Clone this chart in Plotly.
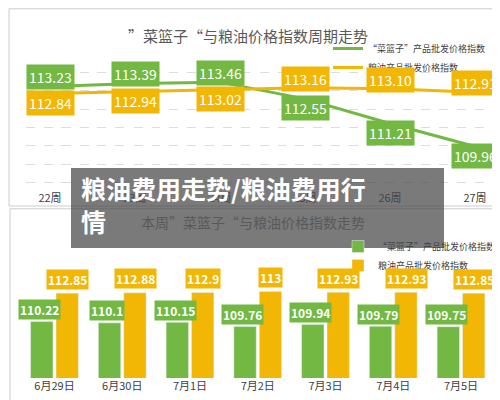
import plotly.graph_objects as go

weeks = ["22周", "23周", "24周", "25周", "26周", "27周"]
veg_week = [113.23, 113.39, 113.46, 112.55, 111.21, 109.96]
grain_week = [112.84, 112.94, 113.02, 113.16, 113.10, 112.91]

days = ["6月29日", "6月30日", "7月1日", "7月2日", "7月3日", "7月4日", "7月5日"]
veg_day = [110.22, 110.1, 110.15, 109.76, 109.94, 109.79, 109.75]
grain_day = [112.85, 112.88, 112.9, 113, 112.93, 112.93, 112.85]

GREEN = "#72b843"
YELLOW = "#f2b705"
FONT = "Noto Sans CJK SC"

fig = go.Figure()

# top chart: weekly lines
fig.add_trace(go.Scatter(x=weeks, y=veg_week, mode="lines", line=dict(color=GREEN, width=3),
                         name="“菜篮子”产品批发价格指数", legend="legend"))
fig.add_trace(go.Scatter(x=weeks, y=grain_week, mode="lines", line=dict(color=YELLOW, width=3),
                         name="粮油产品批发价格指数", legend="legend"))

# bottom chart: daily bars
fig.add_trace(go.Bar(x=days, y=veg_day, marker_color=GREEN, xaxis="x2", yaxis="y2",
                     name="“菜篮子”产品批发价格指数", legend="legend2"))
fig.add_trace(go.Bar(x=days, y=grain_day, marker_color=YELLOW, xaxis="x2", yaxis="y2",
                     name="粮油产品批发价格指数", legend="legend2"))

anns = []
for w, v, g in zip(weeks, veg_week, grain_week):
    up = 9 if v > g else -9
    anns.append(dict(x=w, y=v, xref="x", yref="y", text=f"{v:.2f}", showarrow=False, yshift=up,
                     bgcolor=GREEN, borderpad=2, font=dict(color="white", size=14, family=FONT)))
    anns.append(dict(x=w, y=g, xref="x", yref="y", text=f"{g:.2f}", showarrow=False, yshift=-up,
                     bgcolor=YELLOW, borderpad=2, font=dict(color="white", size=14, family=FONT)))
for d, v in zip(days, veg_day):
    anns.append(dict(x=d, y=v, xref="x2", yref="y2", text=f"<b>{v:g}</b>", showarrow=False,
                     xshift=-15, yshift=12, bgcolor=GREEN, borderpad=1,
                     font=dict(color="white", size=12, family=FONT)))
for d, v in zip(days, grain_day):
    anns.append(dict(x=d, y=v, xref="x2", yref="y2", text=f"<b>{v:g}</b>", showarrow=False,
                     xshift=13, yshift=14, bgcolor=YELLOW, borderpad=1,
                     font=dict(color="white", size=12, family=FONT)))

anns.append(dict(x=0.48, y=0.962, xref="paper", yref="paper", showarrow=False,
                 text="”菜篮子“与粮油价格指数周期走势", font=dict(size=15, color="#595959", family=FONT)))
anns.append(dict(x=0.49, y=0.465, xref="paper", yref="paper", showarrow=False,
                 text="本周”菜篮子“与粮油价格指数走势", font=dict(size=14, color="#595959", family=FONT)))
anns.append(dict(x=0.142, y=0.6, xref="paper", yref="paper", showarrow=False, xanchor="left",
                 yanchor="top", align="left", text="<b>粮油费用走势/粮油费用行<br>情</b>",
                 font=dict(size=25, color="white", family=FONT)))

fig.update_layout(
    width=500, height=400, margin=dict(l=0, r=0, t=0, b=0),
    plot_bgcolor="white", paper_bgcolor="white",
    font=dict(family=FONT, color="#404040"),
    barmode="group", bargap=0.25, bargroupgap=0.12,
    xaxis=dict(domain=[0.035, 0.983], showgrid=False, showline=False, ticks="",
               tickfont=dict(size=11)),
    yaxis=dict(domain=[0.545, 0.8625], range=[107.6, 114.5], dtick=1, showticklabels=False,
               gridcolor="#dddddd", griddash="dash", zeroline=False),
    xaxis2=dict(domain=[0.02, 0.975], anchor="y2", showgrid=False, showline=False, ticks="",
                tickfont=dict(size=11)),
    yaxis2=dict(domain=[0.075, 0.375], range=[105, 116.1], showticklabels=False,
                showgrid=False, zeroline=False),
    legend=dict(x=0.64, y=0.935, xanchor="left", yanchor="top", font=dict(size=9),
                bgcolor="rgba(0,0,0,0)", itemwidth=30),
    legend2=dict(x=0.66, y=0.44, xanchor="left", yanchor="top", font=dict(size=9),
                 bgcolor="rgba(0,0,0,0)", itemwidth=30),
    annotations=anns,
    shapes=[
        dict(type="rect", xref="paper", yref="paper", x0=0.002, x1=0.998, y0=0.505, y1=0.998,
             line=dict(color="#cccccc", width=1)),
        dict(type="rect", xref="paper", yref="paper", x0=0.004, x1=0.996, y0=0.004, y1=0.498,
             line=dict(color="#cccccc", width=1)),
        dict(type="rect", xref="paper", yref="paper", x0=0.126, x1=0.872, y0=0.4, y1=0.6,
             fillcolor="rgba(70,70,70,0.72)", line=dict(width=0), layer="above"),
    ],
)

fig.write_html("out.html")
